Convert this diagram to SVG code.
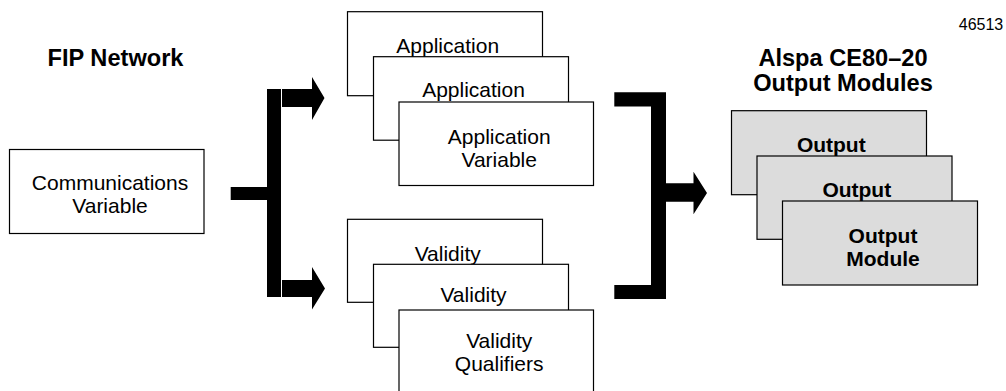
<svg xmlns="http://www.w3.org/2000/svg" width="1006" height="391" viewBox="0 0 1006 391">
<style>
text{font-family:"Liberation Sans",Arial,Helvetica,sans-serif;fill:#000;text-anchor:middle}
.r{font-size:21px}
.b{font-size:21px;font-weight:bold}
.h{font-size:23.6px;font-weight:bold}
.box{fill:#fff;stroke:#000;stroke-width:1.2}
.gbox{fill:#dcdcdc;stroke:#000;stroke-width:1.2}
.c{fill:#000;stroke:none}
</style>
<rect width="1006" height="391" fill="#fff"/>
<text x="981" y="30" style="font-size:16px">46513</text>
<text class="h" x="115.5" y="66">FIP Network</text>
<text class="h" x="843" y="65.7">Alspa CE80–20</text>
<text class="h" x="843" y="91">Output Modules</text>

<g id="communications">
<rect class="box" x="9.5" y="149.5" width="194.5" height="84"/>
<text class="r" x="110" y="190">Communications</text>
<text class="r" x="110" y="213.3">Variable</text>
</g>

<g id="application1">
<rect class="box" x="347.5" y="11.7" width="195" height="84"/>
<text class="r" x="447.7" y="53.3">Application</text>
</g>
<g id="application2">
<rect class="box" x="373.5" y="56.7" width="195" height="83.5"/>
<text class="r" x="473.5" y="96.7">Application</text>
</g>
<g id="application3">
<rect class="box" x="399" y="102" width="194.5" height="83.5"/>
<text class="r" x="499.2" y="144">Application</text>
<text class="r" x="499.2" y="166.7">Variable</text>
</g>

<g id="validity1">
<rect class="box" x="347.5" y="219.3" width="195" height="83"/>
<text class="r" x="447.7" y="261">Validity</text>
</g>
<g id="validity2">
<rect class="box" x="373.5" y="264.3" width="195" height="83"/>
<text class="r" x="473.5" y="302.3">Validity</text>
</g>
<g id="validity3">
<rect class="box" x="399" y="310" width="194.5" height="84"/>
<text class="r" x="499.2" y="348.3">Validity</text>
<text class="r" x="499.2" y="371">Qualifiers</text>
</g>

<g id="output1">
<rect class="gbox" x="731.5" y="110.7" width="195" height="84"/>
<text class="b" x="831.3" y="152.3">Output</text>
</g>
<g id="output2">
<rect class="gbox" x="757" y="156" width="195" height="83.3"/>
<text class="b" x="856.8" y="196.7">Output</text>
</g>
<g id="output3">
<rect class="gbox" x="782.5" y="201" width="195" height="84"/>
<text class="b" x="883" y="242.7">Output</text>
<text class="b" x="883" y="265.7">Module</text>
</g>

<g id="connectors">
<rect class="c" x="230.7" y="187" width="37" height="13"/>
<rect class="c" x="267" y="89" width="14" height="208"/>
<path class="c" d="M282,89 H312 V77 L324.5,98 L312,120 V107 H282 Z"/>
<path class="c" d="M282,280 H312 V267 L325,288.5 L312,309.5 V297 H282 Z"/>
<path class="c" d="M614.3,92.3 H666 V299 H614.3 V285 H651 V106.5 H614.3 Z"/>
<path class="c" d="M666,183.3 H693.5 V171.7 L707,193 L693.5,214.3 V201.7 H666 Z"/>
</g>
</svg>
